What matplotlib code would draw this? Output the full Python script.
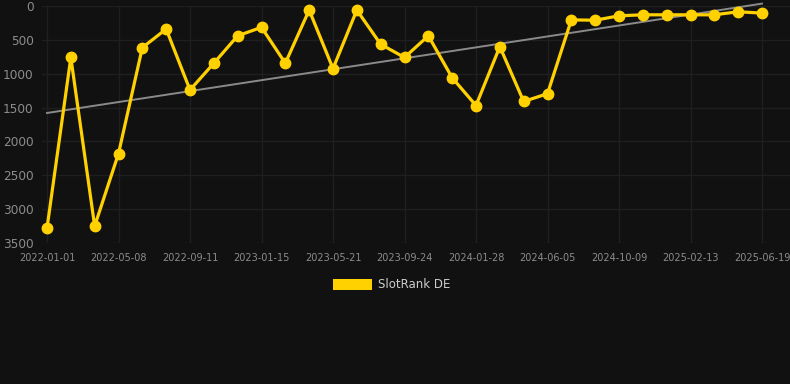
import matplotlib
matplotlib.use("Agg")
import matplotlib.pyplot as plt
import matplotlib.patches as mpatches

# Data
tick_labels = ["2022-01-01", "2022-05-08", "2022-09-11", "2023-01-15", "2023-05-21",
               "2023-09-24", "2024-01-28", "2024-06-05", "2024-10-09", "2025-02-13",
               "2025-06-19"]
rank_values = [3280, 760, 3250, 2180, 615, 340, 1240, 845, 440, 315, 845, 60, 925, 60,
               565, 760, 440, 1060, 1470, 600, 1410, 1295, 205, 210, 145, 130, 130,
               130, 130, 85, 105]
trend_values = [1580, -35]
series_name = "SlotRank DE"

W, H = 790, 384
fig = plt.figure(figsize=(W / 100, H / 100), dpi=100)
fig.patch.set_facecolor("#111111")

left_px, right_px, top_px, bottom_px = 42, 790, 6, 243
ax = fig.add_axes([left_px / W, 1 - bottom_px / H, (right_px - left_px) / W,
                   (bottom_px - top_px) / H])
ax.set_facecolor("#111111")

n = len(rank_values)
xs = list(range(n))
step = (762 - 47) / (n - 1)
ax.set_xlim((left_px - 47) / step, (right_px - 47) / step)
ax.set_ylim(3500, 0)

# trend line
ax.plot([0, n - 1], trend_values, color="#8a8a8a", lw=1.4, zorder=2, clip_on=False)
# main series
ax.plot(xs, rank_values, color="#FFD100", lw=2.3, marker="o", markersize=7.5,
        solid_joinstyle="miter", zorder=3, clip_on=False)

ax.set_yticks(range(0, 3501, 500))
ax.set_xticks(xs[::3])
ax.set_xticklabels(tick_labels)
ax.grid(True, color="#1f1f1f", lw=1.0)
ax.set_axisbelow(True)
for s in ax.spines.values():
    s.set_visible(False)
ax.tick_params(axis="y", colors="#8c8c8c", labelsize=8.7, length=0, pad=6)
ax.tick_params(axis="x", colors="#8c8c8c", labelsize=7, length=0, pad=7)

# legend
fig.patches.append(mpatches.Rectangle((333 / W, 1 - 290 / H), 39 / W, 11 / H,
                                      transform=fig.transFigure, facecolor="#FFD100",
                                      edgecolor="none"))
fig.text(378 / W, 1 - 285 / H, series_name, color="#cccccc", fontsize=8.5,
         va="center", ha="left")

fig.savefig("out.png", dpi=100, facecolor=fig.get_facecolor())
